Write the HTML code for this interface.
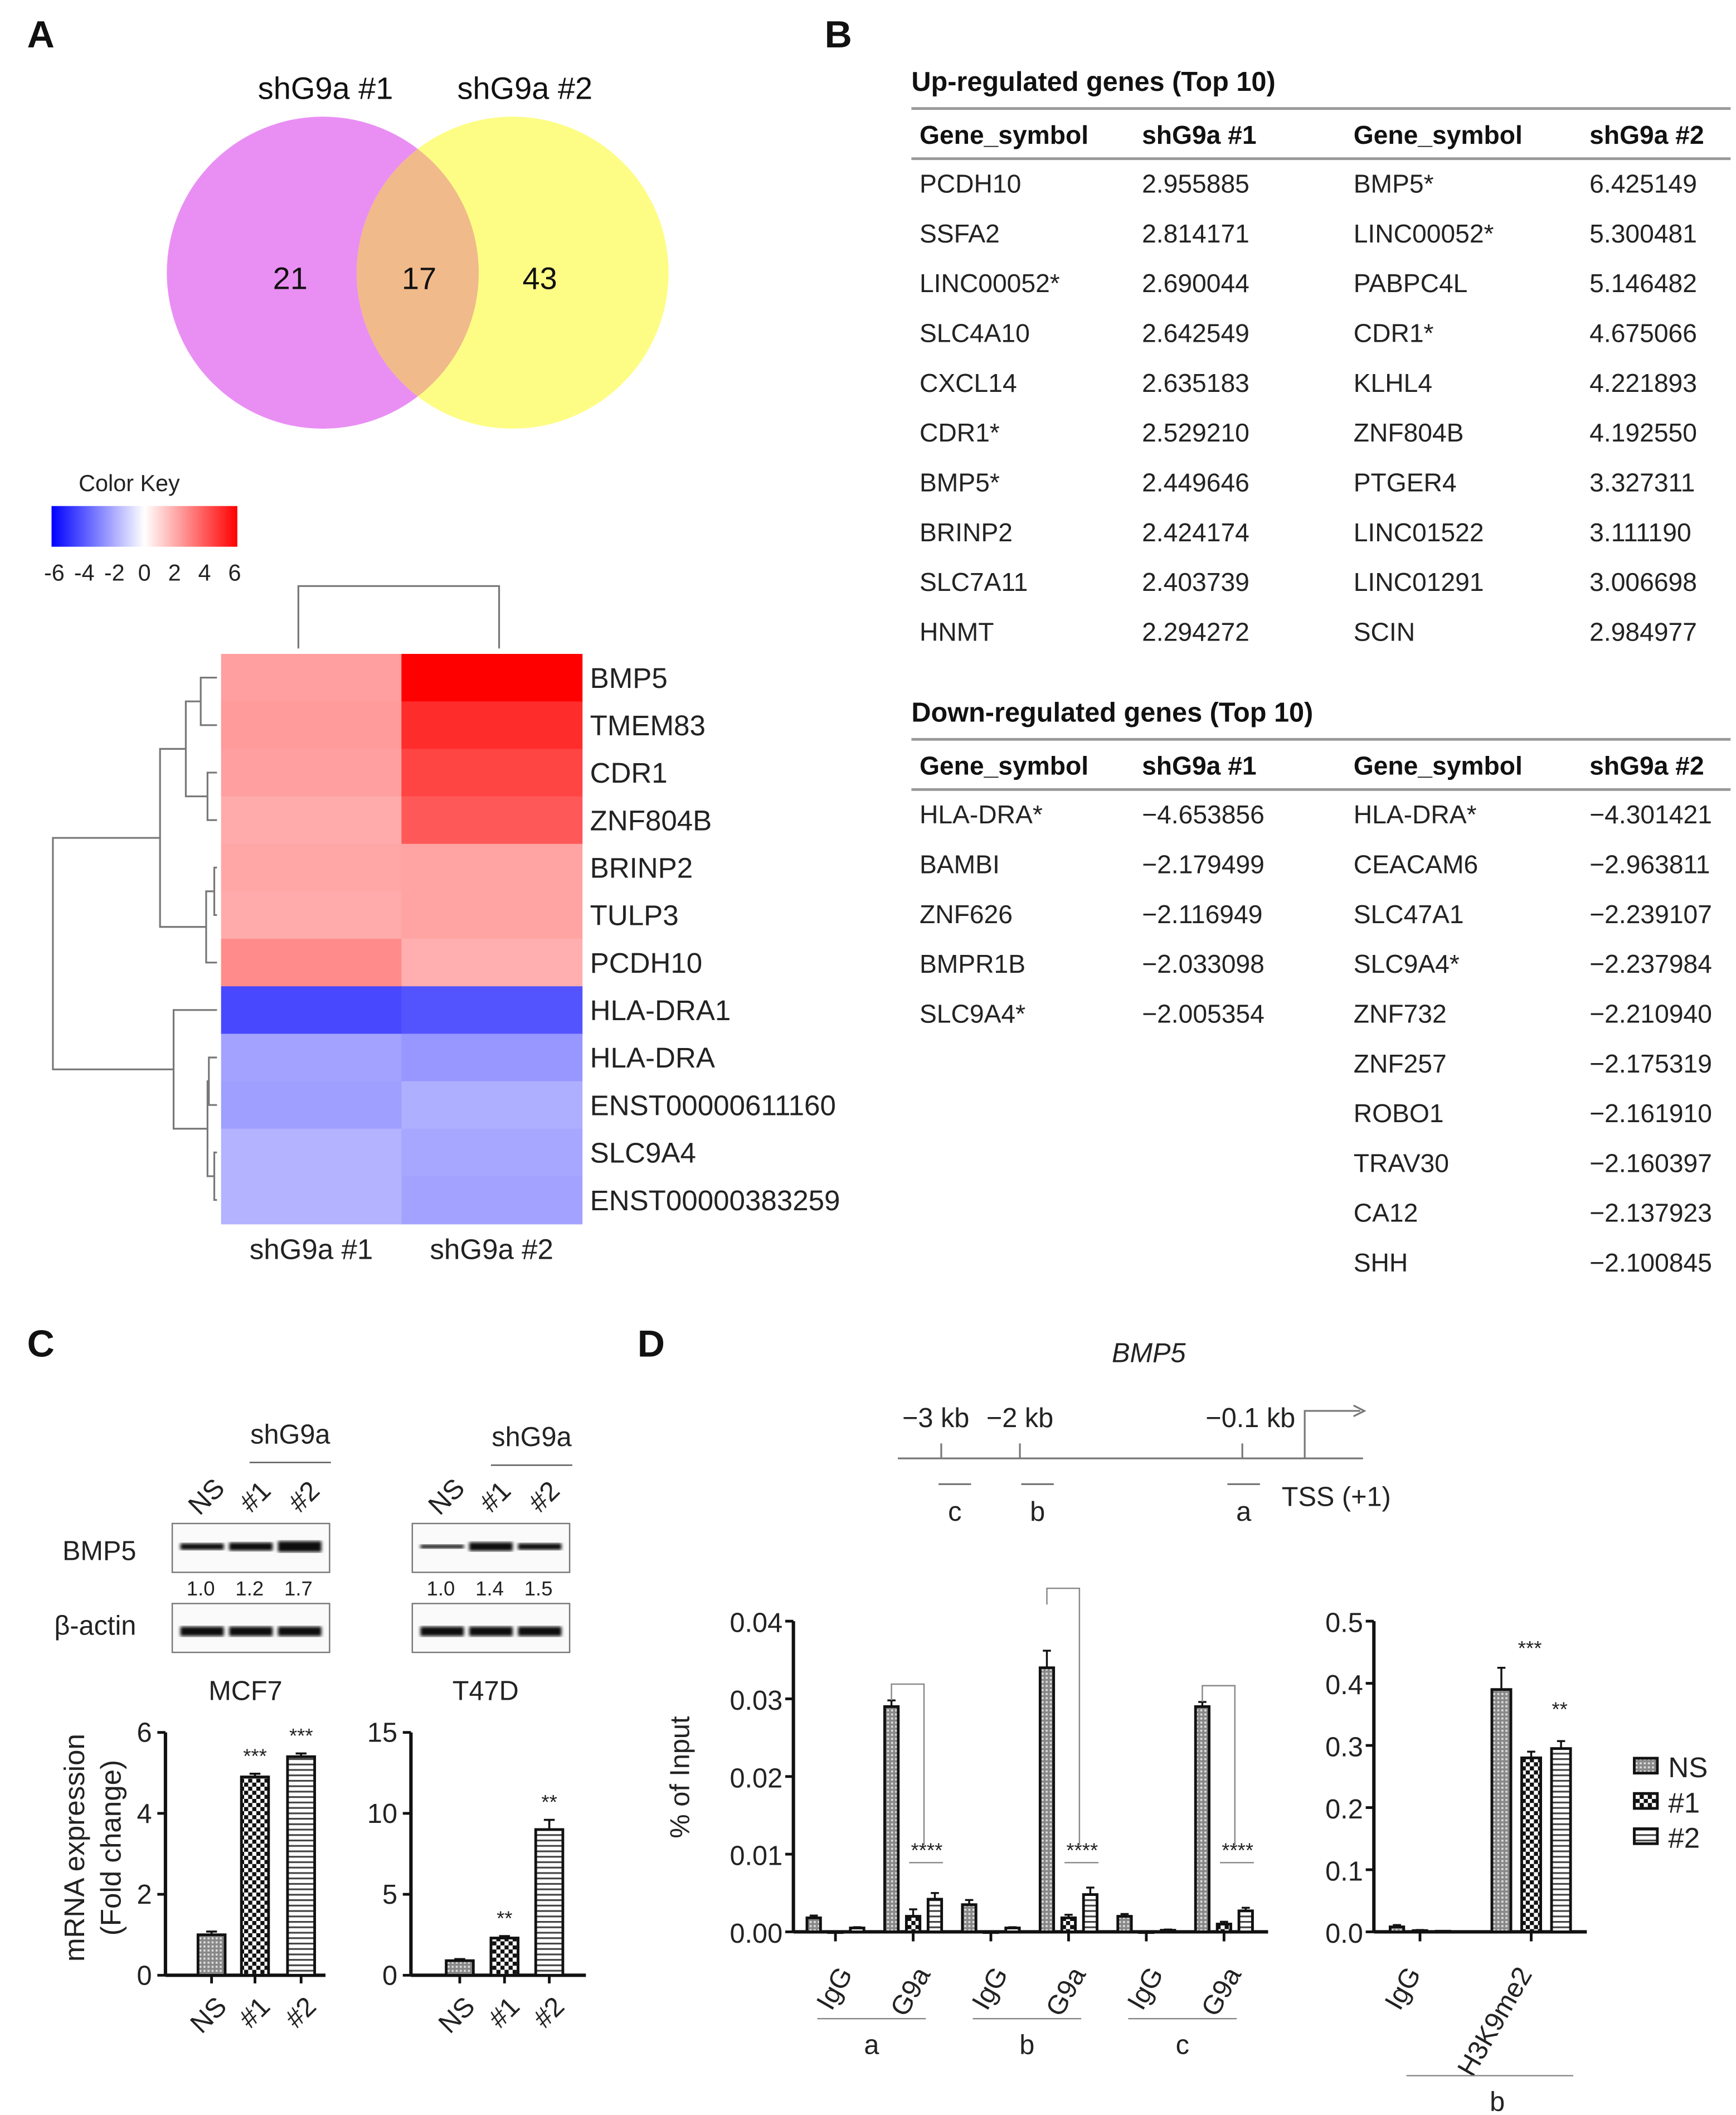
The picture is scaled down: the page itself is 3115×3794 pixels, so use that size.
<!DOCTYPE html>
<html><head><meta charset="utf-8">
<style>
html,body{margin:0;padding:0;background:#fff;}
svg{display:block;font-family:"Liberation Sans",Arial,sans-serif;}
</style></head>
<body>
<svg id="fig" xmlns="http://www.w3.org/2000/svg" width="3115" height="3794" viewBox="0 0 1280 1559">
<defs>
<pattern id="pNS" width="3" height="3" patternUnits="userSpaceOnUse"><rect width="3" height="3" fill="#888"/><rect width="1.5" height="1.5" fill="#ddd"/></pattern>
<pattern id="p1" width="6" height="6" patternUnits="userSpaceOnUse"><rect width="6" height="6" fill="#fff"/><rect width="3" height="3" fill="#111"/><rect x="3" y="3" width="3" height="3" fill="#111"/></pattern>
<pattern id="p2" width="4" height="4" patternUnits="userSpaceOnUse"><rect width="4" height="4" fill="#fff"/><rect width="4" height="1.3" fill="#444"/></pattern>
<linearGradient id="gk" x1="0" x2="1"><stop offset="0" stop-color="#0000ff"/><stop offset="0.5" stop-color="#ffffff"/><stop offset="1" stop-color="#ff0000"/></linearGradient>
<filter id="blur"><feGaussianBlur stdDeviation="1.2"/></filter>
</defs>

<g font-weight="bold" font-size="28" fill="#111">
<text x="20" y="35">A</text>
<text x="608" y="35">B</text>
<text x="20" y="1000">C</text>
<text x="470" y="1000">D</text>
</g>

<g>
<circle cx="238" cy="201" r="115" fill="#e98ff3"/>
<circle cx="378" cy="201" r="115" fill="#fdfd86"/>
<clipPath id="cl"><circle cx="238" cy="201" r="115"/></clipPath>
<circle cx="378" cy="201" r="115" fill="#f1ba8b" clip-path="url(#cl)"/>
<g font-size="23" fill="#111" text-anchor="middle">
<text x="240" y="73">shG9a #1</text>
<text x="387" y="73">shG9a #2</text>
<text x="214" y="213">21</text>
<text x="309" y="213">17</text>
<text x="398" y="213">43</text>
</g>
</g>

<g>
<text x="58" y="362" font-size="17" fill="#222">Color Key</text>
<rect x="38" y="373" width="137" height="30" fill="url(#gk)"/>
<g id="keyticks" font-size="17" fill="#222" text-anchor="middle"></g>
</g>

<g id="heat"></g>
<g id="tables"></g>
<g id="panelC"></g>
<g id="panelD"></g>
</svg>

<script>
const NS='http://www.w3.org/2000/svg';
function mk(parent,tag,attrs,text){const e=document.createElementNS(NS,tag);for(const k in attrs)e.setAttribute(k,attrs[k]);if(text!==undefined)e.textContent=text;parent.appendChild(e);return e;}

const keyTicks=[-6,-4,-2,0,2,4,6];
const kt=document.getElementById('keyticks');
keyTicks.forEach(v=>{const t=mk(kt,'text',{x:40+(v+6)/12*133,y:428},String(v));

});

const heatGenes=['BMP5','TMEM83','CDR1','ZNF804B','BRINP2','TULP3','PCDH10','HLA-DRA1','HLA-DRA','ENST00000611160','SLC9A4','ENST00000383259'];
const heatCol1=[2.4,2.5,2.4,2.1,2.2,2.1,2.9,-4.6,-2.3,-2.4,-1.9,-1.9];
const heatCol2=[6.4,5.3,4.7,4.2,2.3,2.3,2.0,-4.3,-2.6,-2.0,-2.2,-2.3];
const heatCols=['shG9a #1','shG9a #2'];
function heatColor(v){const f=Math.min(1,Math.abs(v)/6.4);const c=Math.round(255*(1-f));return v>=0?`rgb(255,${c},${c})`:`rgb(${c},${c},255)`;}
const H=document.getElementById('heat');
const hx0=163,hy0=482,cw=133,rh=35;
[heatCol1,heatCol2].forEach((col,ci)=>{col.forEach((v,ri)=>{
 const r=mk(H,'rect',{x:hx0+ci*cw,y:hy0+ri*rh,width:cw+0.5,height:rh+0.5,fill:heatColor(v)});
 
 });});
heatGenes.forEach((g,ri)=>{const t=mk(H,'text',{x:435,y:hy0+ri*rh+25,'font-size':21,fill:'#222'},g);
 
 });
heatCols.forEach((g,ci)=>{const t=mk(H,'text',{x:hx0+ci*cw+cw/2,y:928,'font-size':21,fill:'#222','text-anchor':'middle'},g);
 
 });
const rc=i=>hy0+i*rh+rh/2;
let dp='M220 478V432H368V478 ';
function join(x,y1,y2,l1,l2){return `M${l1} ${y1}H${x}V${y2}H${l2} `;}
const m01=(rc(0)+rc(1))/2,m23=(rc(2)+rc(3))/2,m45=(rc(4)+rc(5))/2,m456=(m45+rc(6))/2;
const m03=(m01+m23)/2,m06=(m03+m456)/2;
const m89=(rc(8)+rc(9))/2,m1011=(rc(10)+rc(11))/2,m811=(m89+m1011)/2,m711=(rc(7)+m811)/2;
dp+=join(148,rc(0),rc(1),160,160)+join(153,rc(2),rc(3),160,160)+join(137,m01,m23,148,153);
dp+=join(158,rc(4),rc(5),160,160)+join(152,m45,rc(6),158,160)+join(118,m03,m456,137,152);
dp+=join(154,rc(8),rc(9),160,160)+join(158,rc(10),rc(11),160,160)+join(153,m89,m1011,154,158);
dp+=join(128,rc(7),m811,160,153)+join(39,m06,m711,118,128);
const dd=mk(H,'path',{d:dp,fill:'none',stroke:'#777','stroke-width':1.3});



const upG1=['PCDH10','SSFA2','LINC00052*','SLC4A10','CXCL14','CDR1*','BMP5*','BRINP2','SLC7A11','HNMT'];
const upV1=['2.955885','2.814171','2.690044','2.642549','2.635183','2.529210','2.449646','2.424174','2.403739','2.294272'];
const upG2=['BMP5*','LINC00052*','PABPC4L','CDR1*','KLHL4','ZNF804B','PTGER4','LINC01522','LINC01291','SCIN'];
const upV2=['6.425149','5.300481','5.146482','4.675066','4.221893','4.192550','3.327311','3.111190','3.006698','2.984977'];
const dnG1=['HLA-DRA*','BAMBI','ZNF626','BMPR1B','SLC9A4*'];
const dnV1=['\u22124.653856','\u22122.179499','\u22122.116949','\u22122.033098','\u22122.005354'];
const dnG2=['HLA-DRA*','CEACAM6','SLC47A1','SLC9A4*','ZNF732','ZNF257','ROBO1','TRAV30','CA12','SHH'];
const dnV2=['\u22124.301421','\u22122.963811','\u22122.239107','\u22122.237984','\u22122.210940','\u22122.175319','\u22122.161910','\u22122.160397','\u22122.137923','\u22122.100845'];
const T=document.getElementById('tables');
const colX=[678,842,998,1172];
function table(title,ty,cols){
 const tt=mk(T,'text',{x:672,y:ty,'font-size':20,'font-weight':'bold',fill:'#111'},title);
 
 
 mk(T,'line',{x1:672,x2:1276,y1:ty+13,y2:ty+13,stroke:'#999','stroke-width':2});
 ['Gene_symbol','shG9a #1','Gene_symbol','shG9a #2'].forEach((h,i)=>{const e=mk(T,'text',{x:colX[i],y:ty+39,'font-size':19,'font-weight':'bold',fill:'#111'},h);
  
  });
 mk(T,'line',{x1:672,x2:1276,y1:ty+50,y2:ty+50,stroke:'#999','stroke-width':2});
 cols.forEach((c,i)=>c.forEach((v,r)=>{const e=mk(T,'text',{x:colX[i],y:ty+75+r*36.7,'font-size':19,fill:'#222'},v);
  
  }));
}
table('Up-regulated genes (Top 10)',67,[upG1,upV1,upG2,upV2]);
table('Down-regulated genes (Top 10)',532,[dnG1,dnV1,dnG2,dnV2]);

const C=document.getElementById('panelC');
const blotQuant1=['1.0','1.2','1.7'];
const blotQuant2=['1.0','1.4','1.5'];
const lanes=['NS','#1','#2'];
function blot(x0,q,bmpInt,sx,sy){
 const t=mk(C,'text',{x:sx,y:sy,'font-size':20,fill:'#222','text-anchor':'middle'},'shG9a');
 
 
 mk(C,'line',{x1:sx-30,x2:sx+30,y1:sy+14,y2:sy+14,stroke:'#555','stroke-width':1});
 lanes.forEach((l,i)=>{const e=mk(C,'text',{x:x0+25+i*36,y:1110,'font-size':20,fill:'#222','text-anchor':'middle',transform:`rotate(-45 ${x0+25+i*36} 1103)`},l);
  
  });
 mk(C,'rect',{x:x0,y:1123,width:116,height:36,fill:'#fafafa',stroke:'#777','stroke-width':1});
 mk(C,'rect',{x:x0,y:1182,width:116,height:36,fill:'#fafafa',stroke:'#777','stroke-width':1});
 bmpInt.forEach((v,i)=>{mk(C,'rect',{x:x0+6+i*36,y:1140-v*2,width:32,height:v*4,fill:'#111',filter:'url(#blur)'});
  mk(C,'rect',{x:x0+6+i*36,y:1199,width:32,height:7,fill:'#111',filter:'url(#blur)'});});
 q.forEach((v,i)=>{const e=mk(C,'text',{x:x0+21+i*36,y:1176,'font-size':15,fill:'#222','text-anchor':'middle'},v);
  
  });
}
blot(127,blotQuant1,[1.2,1.5,2],214,1064);
blot(304,blotQuant2,[0.7,1.6,1.2],392,1066);
[['BMP5',46,1150],['\u03b2-actin',40,1205]].forEach(a=>{const e=mk(C,'text',{x:a[1],y:a[2],'font-size':20,fill:'#222'},a[0]);
 
 });

const mcf7Vals=[1.0,4.9,5.4];
const mcf7Err=[0.08,0.08,0.08];
const mcf7Ticks=[0,2,4,6];
const mcf7Stars=['','***','***'];
const t47dVals=[0.9,2.3,9.0];
const t47dErr=[0.1,0.12,0.6];
const t47dTicks=[0,5,10,15];
const t47dStars=['','**','**'];
const fills=['url(#pNS)','url(#p1)','url(#p2)'];
function barChart(g,ax,ymax,ticks,vals,errs,stars,centers,bw,title,tx,xEnd){
 const y0=1456,yt=1277;const Y=v=>y0-(v/ymax)*(y0-yt);
 const tt=mk(g,'text',{x:tx,y:1253,'font-size':20,fill:'#222','text-anchor':'middle'},title);
 
 
 mk(g,'line',{x1:ax,x2:ax,y1:yt,y2:y0,stroke:'#111','stroke-width':2.5});
 mk(g,'line',{x1:ax,x2:xEnd,y1:y0,y2:y0,stroke:'#111','stroke-width':2.5});
 ticks.forEach(v=>{mk(g,'line',{x1:ax-6,x2:ax,y1:Y(v),y2:Y(v),stroke:'#111','stroke-width':2});
  const e=mk(g,'text',{x:ax-10,y:Y(v)+7,'font-size':20,fill:'#222','text-anchor':'end'},String(v));
  
  });
 vals.forEach((v,i)=>{const c=centers[i];const ye=Y(v+errs[i]);
  mk(g,'line',{x1:c,x2:c,y1:ye,y2:Y(v),stroke:'#111','stroke-width':1.5});
  mk(g,'line',{x1:c-4,x2:c+4,y1:ye,y2:ye,stroke:'#111','stroke-width':1.5});
  const b=mk(g,'rect',{x:c-bw/2,y:Y(v),width:bw,height:Y(0)-Y(v),fill:fills[i],stroke:'#111','stroke-width':2});
  
  
  mk(g,'line',{x1:c,x2:c,y1:y0,y2:y0+6,stroke:'#111','stroke-width':2});
  if(stars[i]){const s=mk(g,'text',{x:c,y:ye-8,'font-size':15,fill:'#222','text-anchor':'middle'},stars[i]);
   
   }
  const l=mk(g,'text',{x:c+8,y:1482,'font-size':20,fill:'#222','text-anchor':'end',transform:`rotate(-45 ${c+8} 1476)`},lanes[i]);
  
  });
}
barChart(C,122,6,mcf7Ticks,mcf7Vals,mcf7Err,mcf7Stars,[156,188,222],20,'MCF7',181,240);
barChart(C,303,15,t47dTicks,t47dVals,t47dErr,t47dStars,[339,372,405],20,'T47D',358,432);
['mRNA expression','(Fold change)'].forEach((s,i)=>{const x=62+i*27;const e=mk(C,'text',{x:x,y:1362,'font-size':21,fill:'#222','text-anchor':'middle',transform:`rotate(-90 ${x} 1362)`},s);
 
 });

const D=document.getElementById('panelD');
function txt(p,x,y,s,a,name,extra){const e=mk(p,'text',Object.assign({x:x,y:y,'font-size':20,fill:'#222','text-anchor':a||'start'},extra||{}),s);
 
 return e;}
txt(D,847,1004,'BMP5','middle','gene-map-title',{'font-style':'italic'});
mk(D,'line',{x1:662,x2:1005,y1:1075,y2:1075,stroke:'#777','stroke-width':1.3});
[694,752,916].forEach(x=>mk(D,'line',{x1:x,x2:x,y1:1064,y2:1075,stroke:'#777','stroke-width':1.3}));
txt(D,690,1052,'\u22123 kb','middle','position-label');
txt(D,752,1052,'\u22122 kb','middle','position-label');
txt(D,922,1052,'\u22120.1 kb','middle','position-label');
mk(D,'path',{d:'M962 1075V1040H1003',fill:'none',stroke:'#777','stroke-width':1.3});
mk(D,'path',{d:'M998 1036L1006 1040L998 1044',fill:'none',stroke:'#777','stroke-width':1.3});
[[704,'c'],[765,'b'],[917,'a']].forEach(a=>{mk(D,'line',{x1:a[0]-12,x2:a[0]+12,y1:1094,y2:1094,stroke:'#777','stroke-width':1.3});txt(D,a[0],1121,a[1],'middle','amplicon-label');});
txt(D,945,1110,'TSS (+1)','start','tss-label');

const chipGroups=['IgG','G9a','IgG','G9a','IgG','G9a'];
const chipNS=[0.0018,0.029,0.0035,0.034,0.0020,0.029];
const chipSh1=[0,0.0020,0,0.0018,0,0.0010];
const chipSh2=[0.0005,0.0042,0.0005,0.0048,0.0002,0.0027];
const chipErrNS=[0.0003,0.0008,0.0006,0.0022,0.0003,0.0006];
const chipErrSh1=[0,0.0009,0,0.0004,0,0.0003];
const chipErrSh2=[0.0001,0.0008,0.0001,0.0009,0.0001,0.0004];
const chipTicks=[0.00,0.01,0.02,0.03,0.04];
const regions=['a','b','c'];
const ax1=585,cy0=1424,cyt=1195;const CY=v=>cy0-v/0.04*(cy0-cyt);
const gCenter=i=>616+i*57.3;
function drawBar(g,c,v,e,f,bw,Yf,name){
 if(e>0){mk(g,'line',{x1:c,x2:c,y1:Yf(v+e),y2:Yf(v),stroke:'#111','stroke-width':1.4});mk(g,'line',{x1:c-3,x2:c+3,y1:Yf(v+e),y2:Yf(v+e),stroke:'#111','stroke-width':1.4});}
 const b=mk(g,'rect',{x:c-bw/2,y:Yf(v),width:bw,height:Math.max(0.5,Yf(0)-Yf(v)),fill:f,stroke:'#111','stroke-width':2});
 
 
}
mk(D,'line',{x1:ax1,x2:ax1,y1:cyt,y2:cy0,stroke:'#111','stroke-width':2.5});
mk(D,'line',{x1:ax1,x2:935,y1:cy0,y2:cy0,stroke:'#111','stroke-width':2.5});
chipTicks.forEach(v=>{mk(D,'line',{x1:ax1-6,x2:ax1,y1:CY(v),y2:CY(v),stroke:'#111','stroke-width':2});txt(D,ax1-8,CY(v)+8,v.toFixed(2),'end','y-tick-label');});
chipGroups.forEach((gname,i)=>{const c=gCenter(i);
 drawBar(D,c-16,chipNS[i],chipErrNS[i],'url(#pNS)',10,CY,'bar-ns');
 drawBar(D,c,chipSh1[i],chipErrSh1[i],'url(#p1)',10,CY,'bar-sh1');
 drawBar(D,c+16,chipSh2[i],chipErrSh2[i],'url(#p2)',10,CY,'bar-sh2');
 mk(D,'line',{x1:c,x2:c,y1:cy0,y2:cy0+7,stroke:'#111','stroke-width':2});
 txt(D,c+8,1458,gname,'end','x-tick-label',{transform:`rotate(-60 ${c+8} 1452)`});
 if(gname==='G9a'){const top=CY(chipNS[i]+chipErrNS[i])-12-(i===3?34:0);
  mk(D,'path',{d:`M${c-16} ${top+12}V${top}H${c+8}V1360`,fill:'none',stroke:'#888','stroke-width':1});
  txt(D,c+10,1369,'****','middle','significance-stars',{'font-size':15});
  mk(D,'line',{x1:c-3,x2:c+22,y1:1373,y2:1373,stroke:'#888','stroke-width':1});}
});
regions.forEach((r,i)=>{const c=(gCenter(2*i)+gCenter(2*i+1))/2-2;mk(D,'line',{x1:c-40,x2:c+40,y1:1488,y2:1488,stroke:'#888','stroke-width':1});txt(D,c,1514,r,'middle','region-label');});
txt(D,508,1310,'% of Input','middle','y-axis-title',{transform:'rotate(-90 508 1310)'});

const h3Groups=['IgG','H3K9me2'];
const h3NS=[0.008,0.39];
const h3Sh1=[0.002,0.28];
const h3Sh2=[0.001,0.295];
const h3ErrNS=[0.003,0.035];
const h3ErrSh1=[0.001,0.01];
const h3ErrSh2=[0.0005,0.012];
const h3Ticks=[0.0,0.1,0.2,0.3,0.4,0.5];
const h3Stars=['***','**'];
const ax2=1013;const HY=v=>cy0-v/0.5*(cy0-cyt);
mk(D,'line',{x1:ax2,x2:ax2,y1:cyt,y2:cy0,stroke:'#111','stroke-width':2.5});
mk(D,'line',{x1:ax2,x2:1170,y1:cy0,y2:cy0,stroke:'#111','stroke-width':2.5});
h3Ticks.forEach(v=>{mk(D,'line',{x1:ax2-6,x2:ax2,y1:HY(v),y2:HY(v),stroke:'#111','stroke-width':2});txt(D,ax2-8,HY(v)+8,v.toFixed(1),'end','y-tick-label');});
h3Groups.forEach((gname,i)=>{const c=1047+i*82,d=i?22:17,bw=i?14:10;
 drawBar(D,c-d,h3NS[i],h3ErrNS[i],'url(#pNS)',bw,HY,'bar-ns');
 drawBar(D,c,h3Sh1[i],h3ErrSh1[i],'url(#p1)',bw,HY,'bar-sh1');
 drawBar(D,c+d,h3Sh2[i],h3ErrSh2[i],'url(#p2)',bw,HY,'bar-sh2');
 mk(D,'line',{x1:c,x2:c,y1:cy0,y2:cy0+7,stroke:'#111','stroke-width':2});
 txt(D,c-4,1458,gname,'end','x-tick-label',{transform:`rotate(-60 ${c-4} 1452)`});
});
txt(D,1128,1220,h3Stars[0],'middle','significance-stars',{'font-size':15});
txt(D,1150,1265,h3Stars[1],'middle','significance-stars',{'font-size':15});
mk(D,'line',{x1:1037,x2:1160,y1:1530,y2:1530,stroke:'#888','stroke-width':1});
txt(D,1104,1556,'b','middle','region-label');
const legendLabels=['NS','#1','#2'];
legendLabels.forEach((l,i)=>{const y=1302+i*26;
 const r=mk(D,'rect',{x:1205,y:y-6,width:17,height:11,fill:fills[i],stroke:'#111','stroke-width':2});
 
 
 txt(D,1230,y+8,l,'start','legend-entry',{'font-size':21});});
</script>
</body></html>
